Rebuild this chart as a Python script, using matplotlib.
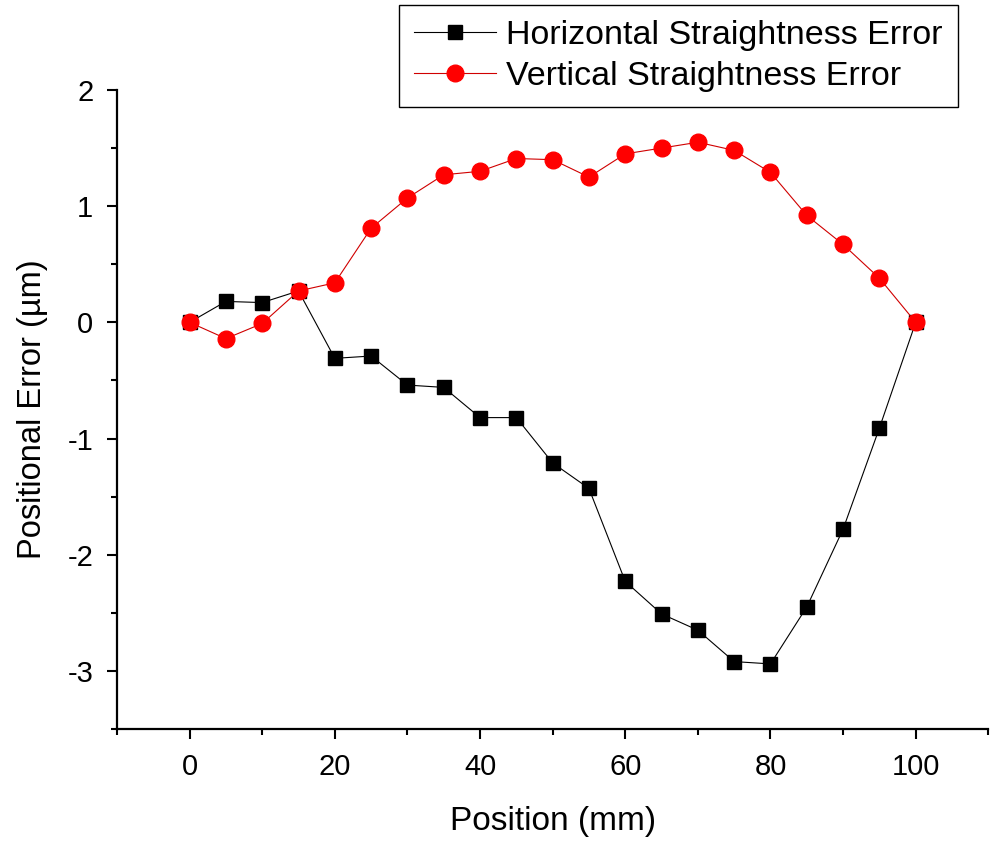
import matplotlib.pyplot as plt
from matplotlib.ticker import MultipleLocator

plt.rcParams['font.family'] = ['Liberation Sans', 'DejaVu Sans']
plt.rcParams['axes.unicode_minus'] = False

# positions along the axis (mm)
position = [0, 5, 10, 15, 20, 25, 30, 35, 40, 45, 50,
            55, 60, 65, 70, 75, 80, 85, 90, 95, 100]

# straightness errors (um)
horizontal = [0, 0.18, 0.17, 0.27, -0.31, -0.29, -0.54, -0.56, -0.82, -0.82, -1.21,
              -1.43, -2.23, -2.51, -2.65, -2.92, -2.94, -2.45, -1.78, -0.91, 0]
vertical = [0, -0.14, -0.01, 0.27, 0.34, 0.81, 1.07, 1.27, 1.30, 1.41, 1.40,
            1.25, 1.45, 1.50, 1.55, 1.48, 1.29, 0.92, 0.67, 0.38, 0]

fig = plt.figure(figsize=(10.05, 8.56), dpi=100)
ax = fig.add_axes([0.1164, 0.1484, 0.867, 0.7465])

ax.plot(position, horizontal, color='black', lw=0.8, marker='s', ms=10,
        mfc='black', mec='black', label='Horizontal Straightness Error')
ax.plot(position, vertical, color='#D00000', lw=0.8, marker='o', ms=12,
        mfc='red', mec='red', label='Vertical Straightness Error')

ax.set_xlim(-10, 110)
ax.set_ylim(-3.5, 2)
ax.xaxis.set_major_locator(MultipleLocator(20))
ax.xaxis.set_minor_locator(MultipleLocator(10))
ax.yaxis.set_major_locator(MultipleLocator(1))
ax.yaxis.set_minor_locator(MultipleLocator(0.5))

ax.spines['top'].set_visible(False)
ax.spines['right'].set_visible(False)
ax.spines['left'].set_linewidth(1.6)
ax.spines['bottom'].set_linewidth(1.6)
ax.tick_params(which='major', direction='out', length=7, width=1.5, labelsize=21, pad=10)
ax.tick_params(which='minor', direction='out', length=4, width=1.5)

ax.set_xlabel('Position (mm)', fontsize=24, labelpad=18)
ax.set_ylabel('Positional Error (µm)', fontsize=23.5, labelpad=14)

leg = ax.legend(loc='upper right', bbox_to_anchor=(958 / 1005, 1 - 5 / 856),
                bbox_transform=fig.transFigure, fontsize=24.5, frameon=True,
                fancybox=False, edgecolor='black', framealpha=1,
                handlelength=2.4, borderpad=0.45, labelspacing=0.28,
                handletextpad=0.3, borderaxespad=0)
leg.get_frame().set_linewidth(1.0)

fig.savefig('out.png', dpi=100)
